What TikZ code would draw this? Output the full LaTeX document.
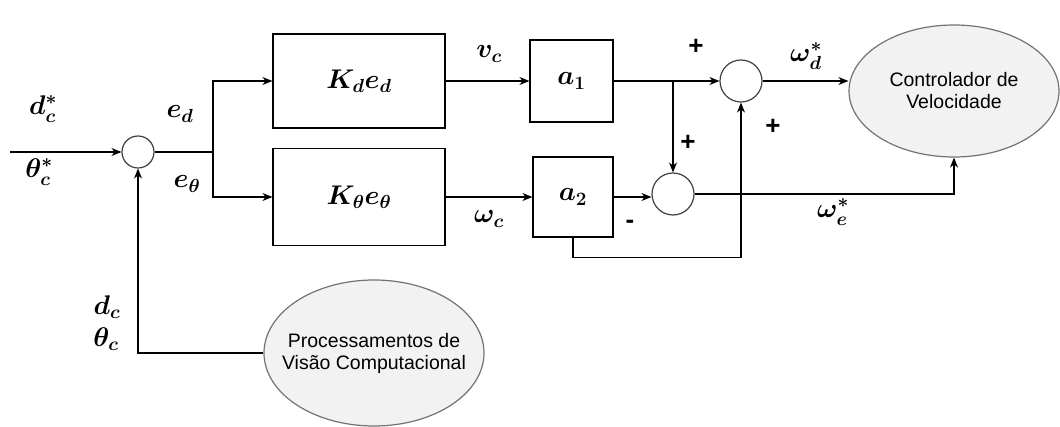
\RequirePackage{fix-cm}
\documentclass[tikz,border=0pt]{standalone}
\usepackage{fontspec}
\setsansfont{Liberation Sans}
\usetikzlibrary{arrows.meta,shapes.geometric}
\begin{document}
\begin{tikzpicture}[x=1pt,y=-1pt,line width=1.2pt,
  arr/.style={-{Stealth[length=10pt,width=8pt]}},
  blk/.style={draw=black,inner sep=0pt,font=\fontsize{27}{32}\selectfont\boldmath},
  sumc/.style={draw=black!75,circle,inner sep=0pt},
  ell/.style={draw=black!55,fill=black!5,ellipse,inner sep=0pt},
  etxt/.style={inner sep=0pt,align=center,font=\sffamily\fontsize{19.5}{22}\selectfont},
  lab/.style={inner sep=0pt,font=\fontsize{27}{32}\selectfont\boldmath},
  sgn/.style={inner sep=0pt,font=\sffamily\bfseries\fontsize{26}{30}\selectfont}]
\useasboundingbox (0,0) rectangle (1060,427);
% blocks
\node[blk,minimum width=172,minimum height=94] (kd) at (359,81) {$K_de_d$};
\node[blk,minimum width=172,minimum height=97] (kt) at (359,197) {$K_\theta e_\theta$};
\node[blk,minimum width=83,minimum height=82] (a1) at (571.5,81) {$a_1$};
\node[blk,minimum width=80,minimum height=80] (a2) at (573,197) {$a_2$};
\node[sumc,minimum size=32] (s0) at (138,152) {};
\node[sumc,minimum size=42] (s1) at (741,81) {};
\node[sumc,minimum size=42] (s2) at (673,194) {};
\node[ell,minimum width=210,minimum height=132] (cv) at (954,91) {};
\node[etxt] (cvt) at (cv.center) {Controlador de\\Velocidade};
\node[ell,minimum width=220,minimum height=146] (pv) at (374,353) {};
\node[etxt] (pvt) at (pv.center) {Processamentos de\\Visão Computacional};
% connectors
\coordinate (in) at (10,152);
\coordinate (br) at (213,152);
\coordinate (j1) at (673,81);
\draw[arr] (in) -- (s0.west);
\draw (s0.east) -- (br);
\draw[arr] (br) |- (kd.west);
\draw[arr] (br) |- (kt.west);
\draw[arr] (kd.east) -- (a1.west);
\draw[arr] (kt.east) -- (a2.west);
\draw[arr] (a1.east) -- (s1.west);
\draw[arr] (j1) -- (s2.north);
\draw[arr] (a2.east) -- (a2.east -| s2.west);
\draw[arr] (a2.south) -- ++(0,20) -| (s1.south);
\draw[arr] (s1.east) -- (s1.east -| cv.west);
\draw[arr] (s2.east) -| (cv.south);
\draw[arr] (pv.west) -| (s0.south);
% labels
\node[lab] (ldcs) at (43,109) {$d_c^*$};
\node[lab] (ltcs) at (39,172) {$\theta_c^*$};
\node[lab] (led) at (180,114) {$e_d$};
\node[lab] (let) at (187,184) {$e_\theta$};
\node[lab] (lvc) at (489,54) {$v_c$};
\node[lab] (lwc) at (489,219) {$\omega_c$};
\node[lab] (lwd) at (806,56) {$\omega_d^*$};
\node[lab] (lwe) at (833,212) {$\omega_e^*$};
\node[lab] (ldc) at (107,307) {$d_c$};
\node[lab] (ltc) at (106,339) {$\theta_c$};
\node[sgn] (p1) at (696,47) {+};
\node[sgn] (p2) at (688,143) {+};
\node[sgn] (p3) at (773,127) {+};
\node[sgn] (m1) at (630,224) {-};
\end{tikzpicture}
\end{document}
